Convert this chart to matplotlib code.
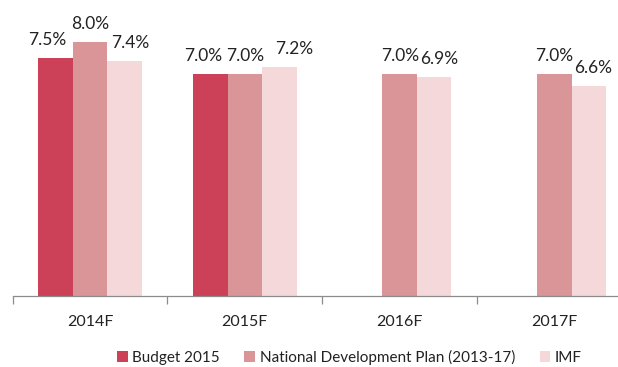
import numpy as np
import matplotlib
matplotlib.use("Agg")
import matplotlib.pyplot as plt
from matplotlib.patches import Patch

plt.rcParams['font.family'] = ['Lato', 'DejaVu Sans']

categories = ["2014F", "2015F", "2016F", "2017F"]
series_names = ["Budget 2015", "National Development Plan (2013-17)", "IMF"]
budget_2015 = [7.5, 7.0, None, None]
ndp = [8.0, 7.0, 7.0, 7.0]
imf = [7.4, 7.2, 6.9, 6.6]
colors = ["#CC4058", "#D99597", "#F5D8D9"]

# horizontal nudges (points) for the value labels, per series and category
label_nudge = [
    [-6, -5, 0, 0],
    [0, 0, 0, 0],
    [4, 11, 3.5, 3],
]

W, H = 618, 367
fig = plt.figure(figsize=(W / 100, H / 100), dpi=100)
ax = fig.add_axes([12.5 / W, 71 / H, 619.5 / W, 285.75 / H])

x = np.arange(len(categories))
width = 0.2226
offsets = [-width, 0, width]

for vals, off, col, nudges in zip([budget_2015, ndp, imf], offsets, colors, label_nudge):
    for xi, v, dx in zip(x, vals, nudges):
        if v is None:
            continue
        ax.bar(xi + off, v, width=width, color=col, linewidth=0)
        ax.annotate(f"{v:.1f}%", (xi + off, v), xytext=(dx, 9.4),
                    textcoords="offset points", ha="center", va="baseline",
                    fontsize=12.5, color="#222222")

ax.set_xlim(-0.5, len(categories) - 0.5)
ax.set_ylim(0, 9.0)
ax.set_yticks([])
for s in ["top", "right", "left"]:
    ax.spines[s].set_visible(False)
ax.spines["bottom"].set_color("#8C8C8C")
ax.spines["bottom"].set_linewidth(0.9)

# category boundaries carry the tick marks, labels sit at the centres
ax.set_xticks(np.arange(len(categories) + 1) - 0.5)
ax.set_xticklabels([])
ax.tick_params(axis="x", which="major", length=6, color="#8C8C8C", width=0.9)
ax.set_xticks(x, minor=True)
ax.set_xticklabels(categories, minor=True, fontsize=11.5, color="#222222")
ax.tick_params(axis="x", which="minor", length=0, pad=14)

handles = [Patch(facecolor=c, edgecolor="none") for c in colors]
fig.legend(handles, series_names, loc="center", bbox_to_anchor=(349.5 / W, 10 / H),
           ncol=3, frameon=False, fontsize=11, handlelength=0.7, handleheight=0.7,
           handletextpad=0.3, columnspacing=1.6, labelcolor="#222222")

fig.savefig("out.png", dpi=100)
